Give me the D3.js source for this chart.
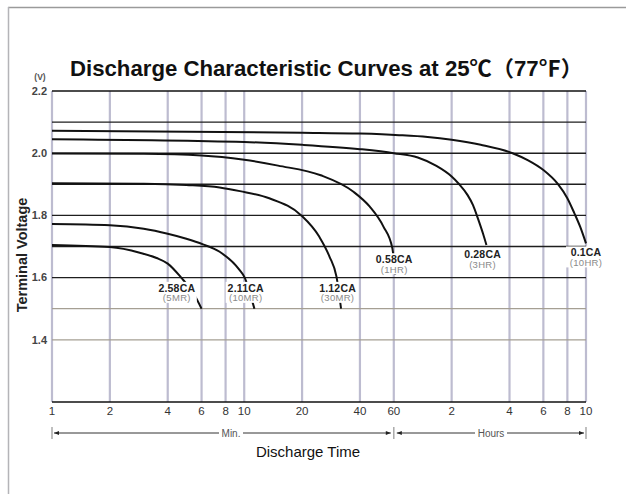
<!DOCTYPE html>
<html>
<head>
<script src="https://d3js.org/d3.v7.min.js"></script>
<style>
  body { margin: 0; background: #fff; }
  svg { font-family: "Liberation Sans", Arial, "Noto Sans CJK JP", sans-serif; }
</style>
</head>
<body>
<script>
// discharge time in minutes (hours converted: 2HR = 120 min ...)
var xTicks = [1, 2, 4, 6, 8, 10, 20, 40, 60, 120, 240, 360, 480, 600];
var xTickLabels = ["1", "2", "4", "6", "8", "10", "20", "40", "60", "2", "4", "6", "8", "10"];
var yTicks = [2.2, 2.0, 1.8, 1.6, 1.4];
var yGrid = [2.1, 2.0, 1.9, 1.8, 1.7, 1.6, 1.5, 1.4];
var yGridLight = [1.5, 1.4];

var rates = ["2.58CA", "2.11CA", "1.12CA", "0.58CA", "0.28CA", "0.1CA"];
var durations = ["(5MR)", "(10MR)", "(30MR)", "(1HR)", "(3HR)", "(10HR)"];

// [minutes, volts]
var c5mr = [[1, 1.705], [2, 1.698], [2.86, 1.68], [3.5, 1.663], [4, 1.645], [4.7, 1.6], [5.5, 1.545], [6, 1.5]];
var c10mr = [[1, 1.772], [2, 1.768], [3, 1.757], [4, 1.741], [5, 1.725], [6.1, 1.707], [7.45, 1.683], [9.47, 1.624], [10.06, 1.6], [10.7, 1.55], [11.3, 1.5]];
var c30mr = [[1, 1.903], [3, 1.902], [5, 1.898], [7.45, 1.89], [9.5, 1.878], [13.5, 1.855], [19.8, 1.8], [24.6, 1.731], [27.8, 1.667], [30.2, 1.603], [31.9, 1.5]];
var c1hr = [[1, 1.999], [3, 1.998], [6, 1.993], [10, 1.979], [15, 1.96], [25, 1.929], [37, 1.876], [45, 1.828], [53, 1.764], [59, 1.694], [61, 1.61]];
var c3hr = [[1, 2.045], [10, 2.036], [20, 2.027], [40, 2.013], [60, 2.0], [80, 1.986], [100, 1.959], [120, 1.925], [131, 1.901], [145, 1.866], [155, 1.833], [165, 1.787], [175, 1.74], [182, 1.705]];
var c10hr = [[1, 2.072], [20, 2.066], [40, 2.063], [64, 2.058], [90, 2.052], [120, 2.043], [170, 2.027], [249, 2.0], [300, 1.977], [360, 1.946], [427, 1.902], [479, 1.856], [521, 1.808], [560, 1.763], [600, 1.71]];
var curves = [c5mr, c10mr, c30mr, c1hr, c3hr, c10hr];

// label anchors [minutes, volts]
var labelAt = [[4.46, 1.567], [10.18, 1.567], [30.6, 1.567], [60.3, 1.659], [173.8, 1.675], [600, 1.681]];

var W = 626, H = 494;
var svg = d3.select("body").append("svg").attr("width", W).attr("height", H);

// frame
svg.append("line").attr("x1", 8).attr("x2", W).attr("y1", 7.5).attr("y2", 7.5)
  .attr("stroke", "#9a9a9a").attr("stroke-width", 1.5);
svg.append("line").attr("x1", 8.5).attr("x2", 8.5).attr("y1", 7).attr("y2", H)
  .attr("stroke", "#b4b4b8").attr("stroke-width", 1.5);

var x = d3.scaleLog().domain([1, 600]).range([52, 586]);
var y = d3.scaleLinear().domain([1.2, 2.2]).range([402, 91]);

// title
svg.append("text")
  .attr("x", 70).attr("y", 76)
  .attr("textLength", 513).attr("lengthAdjust", "spacingAndGlyphs")
  .attr("font-size", 21.5).attr("font-weight", "bold").attr("fill", "#111")
  .text("Discharge Characteristic Curves at 25℃（77℉）");

// vertical grid
svg.selectAll(".vg").data(xTicks).enter().append("line")
  .attr("class", "vg")
  .attr("x1", function (d) { return x(d); }).attr("x2", function (d) { return x(d); })
  .attr("y1", y(2.2)).attr("y2", y(1.2))
  .attr("stroke", "#bdbcd0").attr("stroke-width", 2.2);

// horizontal lines
svg.selectAll(".hg").data(yGrid).enter().append("line")
  .attr("class", "hg")
  .attr("x1", x(1)).attr("x2", x(600))
  .attr("y1", function (d) { return y(d); }).attr("y2", function (d) { return y(d); })
  .attr("stroke", function (d) { return yGridLight.indexOf(d) >= 0 ? "#a59f93" : "#1e1e1e"; })
  .attr("stroke-width", function (d) { return yGridLight.indexOf(d) >= 0 ? 1.2 : 1.4; });

[2.2, 1.2].forEach(function (v) {
  svg.append("line")
    .attr("x1", x(1)).attr("x2", x(600))
    .attr("y1", y(v)).attr("y2", y(v))
    .attr("stroke", "#111").attr("stroke-width", 1.6);
});

// y axis labels
svg.selectAll(".yt").data(yTicks).enter().append("text")
  .attr("class", "yt")
  .attr("x", 47).attr("y", function (d) { return y(d); })
  .attr("dy", "0.35em").attr("text-anchor", "end")
  .attr("font-size", 11).attr("font-weight", "bold").attr("fill", "#444")
  .text(function (d) { return d.toFixed(1); });

svg.append("text").attr("x", 40).attr("y", 80).attr("text-anchor", "middle")
  .attr("font-size", 8.5).attr("font-weight", "bold").attr("fill", "#555").text("(V)");

svg.append("text")
  .attr("transform", "translate(27,255) rotate(-90)")
  .attr("text-anchor", "middle")
  .attr("font-size", 14.5).attr("font-weight", "bold").attr("fill", "#222")
  .text("Terminal Voltage");

// x tick labels
svg.selectAll(".xt").data(xTicks).enter().append("text")
  .attr("class", "xt")
  .attr("x", function (d) { return x(d); }).attr("y", 411)
  .attr("dy", "0.35em").attr("text-anchor", "middle")
  .attr("font-size", 11.5).attr("fill", "#333")
  .text(function (d, i) { return xTickLabels[i]; });

// curves
var line = d3.line()
  .x(function (d) { return x(d[0]); })
  .y(function (d) { return y(d[1]); })
  .curve(d3.curveMonotoneX);

svg.selectAll(".curve").data(curves).enter().append("path")
  .attr("class", "curve")
  .attr("d", line)
  .attr("fill", "none").attr("stroke", "#111").attr("stroke-width", 2);

// curve labels
var lab = svg.selectAll(".lab").data(rates).enter().append("g")
  .attr("class", "lab")
  .attr("transform", function (d, i) {
    return "translate(" + x(labelAt[i][0]) + "," + y(labelAt[i][1]) + ")";
  });
lab.append("rect")
  .attr("x", -20).attr("y", -6).attr("width", 40).attr("height", 21)
  .attr("fill", "#fff");
lab.append("text")
  .attr("text-anchor", "middle").attr("dy", "0.35em")
  .attr("font-size", 10.5).attr("font-weight", "bold").attr("fill", "#222")
  .attr("letter-spacing", 0.2)
  .text(function (d) { return d; });
lab.append("text")
  .attr("text-anchor", "middle").attr("y", 10).attr("dy", "0.35em")
  .attr("font-size", 9.5).attr("fill", "#8a8a8a").attr("letter-spacing", 0.3)
  .text(function (d, i) { return durations[i]; });

// Min. / Hours bracket
var by = 433;
var br = svg.append("g").attr("stroke", "#333").attr("fill", "none");
[1, 60, 600].forEach(function (t) {
  br.append("line").attr("x1", x(t)).attr("x2", x(t)).attr("y1", by - 6).attr("y2", by + 6)
    .attr("stroke", "#aaa").attr("stroke-width", 1.5);
});
function seg(a, b) {
  br.append("line").attr("x1", a).attr("x2", b).attr("y1", by).attr("y2", by).attr("stroke-width", 1);
}
function arrow(px, dir) {
  svg.append("path")
    .attr("d", "M" + px + "," + by + "l" + (-5 * dir) + ",-2l0,4z")
    .attr("fill", "#222");
}
seg(x(1) + 2, 219); seg(243, x(60) - 3);
seg(x(60) + 3, 475); seg(507, x(600) - 2);
arrow(x(1) + 2, -1); arrow(x(60) - 3, 1);
arrow(x(60) + 3, -1); arrow(x(600) - 2, 1);
svg.append("text").attr("x", 231).attr("y", by).attr("dy", "0.35em").attr("text-anchor", "middle")
  .attr("font-size", 10).attr("fill", "#555").text("Min.");
svg.append("text").attr("x", 491).attr("y", by).attr("dy", "0.35em").attr("text-anchor", "middle")
  .attr("font-size", 10).attr("fill", "#555").text("Hours");

svg.append("text").attr("x", 308).attr("y", 452).attr("dy", "0.35em").attr("text-anchor", "middle")
  .attr("font-size", 15).attr("fill", "#111").text("Discharge Time");
</script>
</body>
</html>
